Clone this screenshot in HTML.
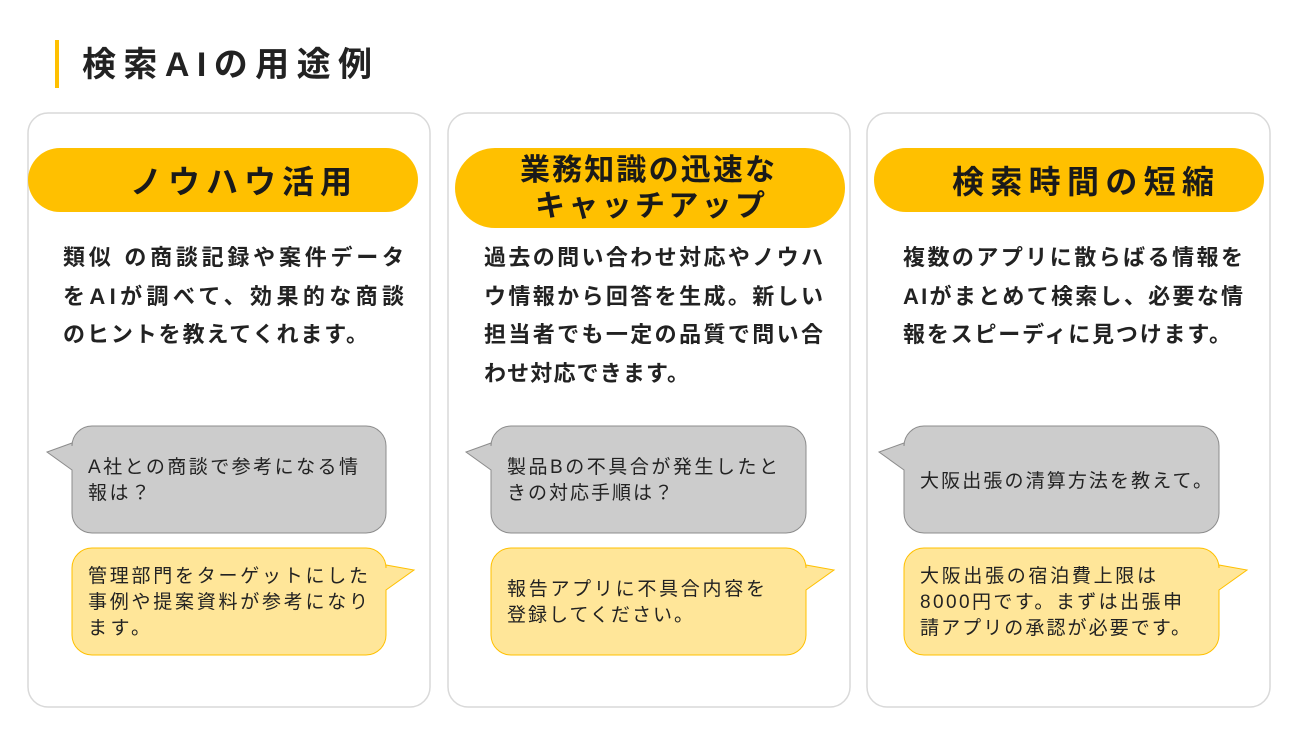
<!DOCTYPE html>
<html><head><meta charset="utf-8"><style>
html,body{margin:0;padding:0;background:#fff}
svg{display:block}
text{font-family:"Liberation Sans","Noto Sans CJK JP",sans-serif;fill:#222}
.h{font-size:32px;font-weight:bold;fill:#1a1a1a}
.b{font-size:22px;font-weight:bold;fill:#222}
.s{font-size:19px;fill:#222}
</style></head><body>
<svg width="1298" height="730" viewBox="0 0 1298 730" xmlns="http://www.w3.org/2000/svg">
<rect x="55" y="40" width="4" height="48" fill="#FFC000"/>
<text x="82" y="76" textLength="290" style="font-size:34px;font-weight:bold;fill:#222">検索AIの用途例</text>

<g fill="#fff" stroke="#d9d9d9" stroke-width="1.5">
<rect x="28" y="113" width="402" height="594" rx="20"/>
<rect x="448" y="113" width="402" height="594" rx="20"/>
<rect x="867" y="113" width="403" height="594" rx="20"/>
</g>

<g fill="#FFC000">
<rect x="28" y="148" width="390" height="64" rx="32"/>
<rect x="455" y="148" width="390" height="80" rx="40"/>
<rect x="874" y="148" width="390" height="64" rx="32"/>
</g>
<text class="h" x="130" y="193" textLength="222">ノウハウ活用</text>
<text class="h" x="520" y="180" textLength="255" style="font-size:30px">業務知識の迅速な</text>
<text class="h" x="535" y="216" textLength="230" style="font-size:30px">キャッチアップ</text>
<text class="h" x="952" y="193" textLength="262">検索時間の短縮</text>

<text class="b" x="63" y="265" textLength="341">類似 の商談記録や案件データ</text>
<text class="b" x="63" y="304" textLength="341">をAIが調べて、効果的な商談</text>
<text class="b" x="63" y="342" textLength="305">のヒントを教えてくれます。</text>

<text class="b" x="484" y="265" textLength="339">過去の問い合わせ対応やノウハ</text>
<text class="b" x="484" y="304" textLength="339">ウ情報から回答を生成。新しい</text>
<text class="b" x="484" y="342" textLength="339">担当者でも一定の品質で問い合</text>
<text class="b" x="484" y="381" textLength="205">わせ対応できます。</text>

<text class="b" x="903" y="265" textLength="340">複数のアプリに散らばる情報を</text>
<text class="b" x="903" y="304" textLength="340">AIがまとめて検索し、必要な情</text>
<text class="b" x="903" y="342" textLength="328">報をスピーディに見つけます。</text>

<g fill="#cccccc" stroke="#8c8c8c" stroke-width="1">
<path d="M92,426 H366 A20,20 0 0 1 386,446 V513 A20,20 0 0 1 366,533 H92 A20,20 0 0 1 72,513 V470 L47,452 L72,443 V446 A20,20 0 0 1 92,426 Z"/>
<path d="M511,426 H786 A20,20 0 0 1 806,446 V513 A20,20 0 0 1 786,533 H511 A20,20 0 0 1 491,513 V470 L466,452 L491,443 V446 A20,20 0 0 1 511,426 Z"/>
<path d="M924,426 H1199 A20,20 0 0 1 1219,446 V513 A20,20 0 0 1 1199,533 H924 A20,20 0 0 1 904,513 V470 L879,452 L904,443 V446 A20,20 0 0 1 924,426 Z"/>
</g>
<g fill="#FFE699" stroke="#FFC000" stroke-width="1">
<path d="M92,548 H366 A20,20 0 0 1 386,568 V565 L414,570 L386,590 V635 A20,20 0 0 1 366,655 H92 A20,20 0 0 1 72,635 V568 A20,20 0 0 1 92,548 Z"/>
<path d="M511,548 H786 A20,20 0 0 1 806,568 V565 L834,570 L806,590 V635 A20,20 0 0 1 786,655 H511 A20,20 0 0 1 491,635 V568 A20,20 0 0 1 511,548 Z"/>
<path d="M924,548 H1199 A20,20 0 0 1 1219,568 V565 L1247,570 L1219,590 V635 A20,20 0 0 1 1199,655 H924 A20,20 0 0 1 904,635 V568 A20,20 0 0 1 924,548 Z"/>
</g>

<text class="s" x="88" y="473" textLength="270">A社との商談で参考になる情</text>
<text class="s" x="88" y="499" textLength="62">報は？</text>
<text class="s" x="88" y="582" textLength="280">管理部門をターゲットにした</text>
<text class="s" x="88" y="608" textLength="280">事例や提案資料が参考になり</text>
<text class="s" x="88" y="634" textLength="62">ます。</text>

<text class="s" x="507" y="473" textLength="271">製品Bの不具合が発生したと</text>
<text class="s" x="507" y="499" textLength="166">きの対応手順は？</text>
<text class="s" x="507" y="595" textLength="258">報告アプリに不具合内容を</text>
<text class="s" x="507" y="621" textLength="186">登録してください。</text>

<text class="s" x="920" y="487" textLength="292">大阪出張の清算方法を教えて。</text>
<text class="s" x="920" y="582" textLength="236">大阪出張の宿泊費上限は</text>
<text class="s" x="920" y="608" textLength="262">8000円です。まずは出張申</text>
<text class="s" x="920" y="634" textLength="270">請アプリの承認が必要です。</text>
</svg>
</body></html>
